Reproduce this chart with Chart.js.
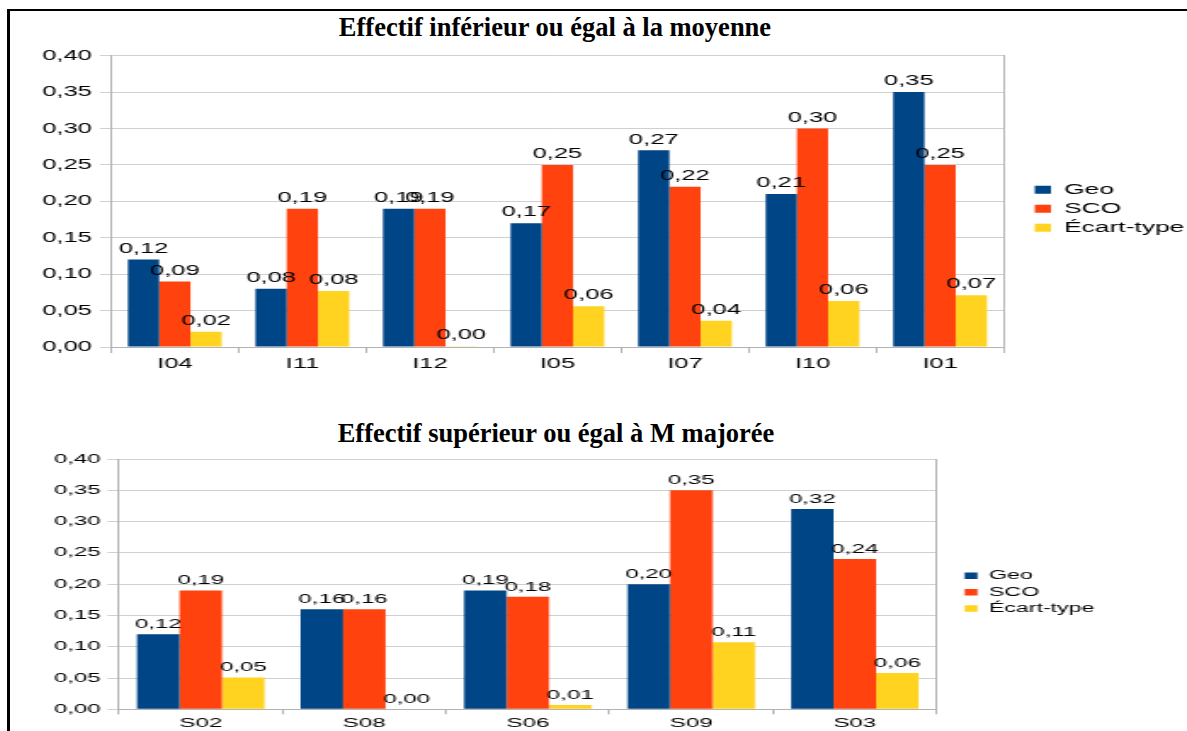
<!DOCTYPE html>
<html lang="fr">
<head>
    <meta charset="UTF-8">
    <title>Effectifs - Geo / SCO / Écart-type</title>
    <script src="https://cdn.jsdelivr.net/npm/chart.js"></script>
    <style>
        * { box-sizing: border-box; margin: 0; padding: 0; }
        body { background: #fff; width: 1187px; height: 731px; overflow: hidden; position: relative; }
        .frame-top { position: absolute; left: 7px; top: 9px; width: 1180px; height: 2px; background: #000; }
        .frame-left { position: absolute; left: 7px; top: 9px; width: 3px; height: 722px; background: #000; }
        .title {
            position: absolute;
            transform: translateX(-50%);
            white-space: nowrap;
            font-family: 'Liberation Serif', 'Times New Roman', serif;
            font-weight: bold;
            font-size: 26.5px;
            line-height: 30px;
            color: #000;
        }
        canvas { position: absolute; }
    </style>
</head>
<body>
    <div class="frame-top"></div>
    <div class="frame-left"></div>

    <div class="title" style="left: 555px; top: 12px;">Effectif inférieur ou égal à la moyenne</div>
    <canvas id="chartTop" width="692" height="340" style="left: 10px; top: 42px; width: 1177px; height: 340px;"></canvas>

    <div class="title" style="left: 556px; top: 418px;">Effectif supérieur ou égal à M majorée</div>
    <canvas id="chartBottom" width="636" height="286" style="left: 10px; top: 445px; width: 1177px; height: 286px;"></canvas>

    <script>
        // data
        const seriesNames = ['Geo', 'SCO', 'Écart-type'];
        const seriesColors = ['#004586', '#ff420e', '#ffd320'];

        const topCategories = ['I04', 'I11', 'I12', 'I05', 'I07', 'I10', 'I01'];
        const topGeo = [0.12, 0.08, 0.19, 0.17, 0.27, 0.21, 0.35];
        const topSco = [0.09, 0.19, 0.19, 0.25, 0.22, 0.30, 0.25];
        const topEcart = [0.021, 0.077, 0.001, 0.056, 0.036, 0.063, 0.071];

        const bottomCategories = ['S02', 'S08', 'S06', 'S09', 'S03'];
        const bottomGeo = [0.12, 0.16, 0.19, 0.20, 0.32];
        const bottomSco = [0.19, 0.16, 0.18, 0.35, 0.24];
        const bottomEcart = [0.051, 0.001, 0.007, 0.107, 0.058];

        const yMin = 0;
        const yMax = 0.4;
        const yStep = 0.05;

        const fmt = v => Number(v).toFixed(2).replace('.', ',');
        const FONT = "'Liberation Sans', Arial, sans-serif";

        // value above each bar
        const valueLabels = {
            id: 'valueLabels',
            afterDatasetsDraw(chart, args, opts) {
                const ctx = chart.ctx;
                ctx.save();
                ctx.font = opts.size + 'px ' + FONT;
                ctx.fillStyle = '#000';
                ctx.textAlign = 'center';
                ctx.textBaseline = 'middle';
                chart.data.datasets.forEach((ds, i) => {
                    chart.getDatasetMeta(i).data.forEach((bar, j) => {
                        ctx.fillText(fmt(ds.data[j]), bar.x, bar.y - opts.offset);
                    });
                });
                ctx.restore();
            }
        };

        function makeChart(id, categories, values, c) {
            return new Chart(document.getElementById(id), {
                type: 'bar',
                data: {
                    labels: categories,
                    datasets: values.map((vals, i) => ({
                        label: seriesNames[i],
                        data: vals,
                        backgroundColor: seriesColors[i],
                        borderWidth: 0,
                        barPercentage: 1,
                        categoryPercentage: c.catPct
                    }))
                },
                options: {
                    responsive: false,
                    devicePixelRatio: 1,
                    animation: false,
                    layout: { padding: { top: c.padTop, right: c.padRight, bottom: 0, left: 0 } },
                    plugins: {
                        title: { display: false },
                        tooltip: { enabled: false },
                        legend: {
                            position: 'right',
                            align: 'center',
                            fullSize: false,
                            maxWidth: c.legendWidth,
                            // empty title only pushes the entries down a little
                            title: { display: true, text: ' ', font: { size: 10 }, padding: { top: c.legendShift, bottom: 0 } },
                            labels: {
                                color: '#000',
                                font: { family: FONT, size: c.legendFont },
                                boxWidth: c.boxW,
                                boxHeight: c.boxH,
                                padding: c.legendPad
                            }
                        },
                        valueLabels: { size: c.font, offset: c.labelOffset }
                    },
                    scales: {
                        x: {
                            grid: {
                                offset: true,
                                drawOnChartArea: false,
                                drawTicks: true,
                                tickLength: c.xTick,
                                tickColor: '#b3b3b3'
                            },
                            border: { color: '#b3b3b3' },
                            ticks: { color: '#000', font: { family: FONT, size: c.font }, padding: c.xPad },
                            afterFit: s => { s.height = c.xHeight; }
                        },
                        y: {
                            min: yMin,
                            max: yMax,
                            ticks: {
                                stepSize: yStep,
                                color: '#000',
                                font: { family: FONT, size: c.font },
                                padding: c.yPad,
                                callback: v => fmt(v)
                            },
                            grid: { color: '#d0d0d0', tickColor: '#d0d0d0', tickLength: c.yTick },
                            border: { color: '#b3b3b3' },
                            afterFit: s => { s.width = c.yWidth; }
                        },
                        yRight: {
                            position: 'right',
                            min: yMin,
                            max: yMax,
                            ticks: { display: false },
                            grid: { drawOnChartArea: false, drawTicks: false },
                            border: { color: '#b3b3b3' },
                            afterFit: s => { s.width = c.gap; }
                        }
                    }
                },
                plugins: [valueLabels]
            });
        }

        makeChart('chartTop', topCategories, [topGeo, topSco, topEcart], {
            catPct: 0.735, padTop: 12, padRight: 0, font: 15, labelOffset: 11,
            legendFont: 15.5, legendWidth: 93, legendPad: 3.5, boxW: 9.5, boxH: 8, legendShift: 3,
            xTick: 6, xPad: 2, xHeight: 35,
            yTick: 6.5, yPad: 4.7, yWidth: 59.4, gap: 14.7
        });

        makeChart('chartBottom', bottomCategories, [bottomGeo, bottomSco, bottomEcart], {
            catPct: 0.78, padTop: 14, padRight: 40, font: 13, labelOffset: 9.5,
            legendFont: 12.5, legendWidth: 123.3, legendPad: 3.9, boxW: 7, boxH: 6.5, legendShift: 4,
            xTick: 5, xPad: 1, xHeight: 21.7,
            yTick: 6.3, yPad: 3.6, yWidth: 58.9, gap: 11.2
        });
    </script>
</body>
</html>
